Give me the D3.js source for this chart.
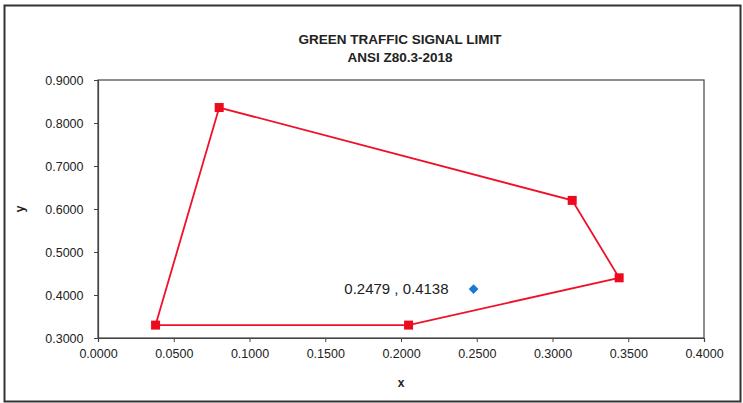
<!DOCTYPE html>
<html>
<head>
<meta charset="utf-8">
<script src="https://cdn.jsdelivr.net/npm/d3@7"></script>
<style>
  body { margin: 0; background: #fff; }
  text { font-family: "Liberation Sans", Arial, sans-serif; }
</style>
</head>
<body>
<svg id="chart" width="743" height="403"></svg>
<script>
// boundary of the green region (closed polygon)
var limitX = [0.0380, 0.0800, 0.3130, 0.3440, 0.2050, 0.0380];
var limitY = [0.3300, 0.8360, 0.6200, 0.4400, 0.3300, 0.3300];

// measured point
var pointX = [0.2479];
var pointY = [0.4138];
var pointLabel = ["0.2479 , 0.4138"];

var xTicks = [0, 0.05, 0.1, 0.15, 0.2, 0.25, 0.3, 0.35, 0.4];
var yTicks = [0.3, 0.4, 0.5, 0.6, 0.7, 0.8, 0.9];

var svg = d3.select("#chart");

// outer frame
svg.append("rect")
  .attr("x", 4.5).attr("y", 5.5)
  .attr("width", 736).attr("height", 396)
  .attr("fill", "none")
  .attr("stroke", "#333")
  .attr("stroke-width", 2);

var plotLeft = 98, plotRight = 704, plotTop = 80, plotBottom = 338;

var x = d3.scaleLinear().domain([0, 0.4]).range([plotLeft, plotRight]);
var y = d3.scaleLinear().domain([0.3, 0.9]).range([plotBottom, plotTop]);

// plot area box
svg.append("rect")
  .attr("x", plotLeft).attr("y", plotTop)
  .attr("width", plotRight - plotLeft).attr("height", plotBottom - plotTop)
  .attr("fill", "none")
  .attr("stroke", "#444")
  .attr("stroke-width", 1.2);

var xAxis = svg.append("g")
  .attr("transform", "translate(0," + plotBottom + ")")
  .call(d3.axisBottom(x).tickValues(xTicks).tickSize(4).tickFormat(d3.format(".4f")));

var yAxis = svg.append("g")
  .attr("transform", "translate(" + plotLeft + ",0)")
  .call(d3.axisLeft(y).tickValues(yTicks).tickSize(4).tickFormat(d3.format(".4f")));

[xAxis, yAxis].forEach(function(g) {
  g.select(".domain").attr("stroke", "#444").attr("stroke-width", 1.2);
  g.selectAll(".tick line").attr("stroke", "#444");
  g.selectAll(".tick text")
    .attr("font-size", 12.5)
    .attr("fill", "#222")
    .style("font-family", "'Liberation Sans', Arial, sans-serif");
});
xAxis.selectAll(".tick text").attr("dy", "1.05em");
yAxis.selectAll(".tick text").attr("dx", "-0.6em");

// titles
svg.append("text")
  .attr("x", 400).attr("y", 44)
  .attr("text-anchor", "middle")
  .attr("font-size", 13.5).attr("font-weight", "bold").attr("fill", "#222")
  .text("GREEN TRAFFIC SIGNAL LIMIT");
svg.append("text")
  .attr("x", 400).attr("y", 62)
  .attr("text-anchor", "middle")
  .attr("font-size", 13.5).attr("font-weight", "bold").attr("fill", "#222")
  .text("ANSI Z80.3-2018");

svg.append("text")
  .attr("x", x(0.2)).attr("y", 387)
  .attr("text-anchor", "middle")
  .attr("font-size", 12).attr("font-weight", "bold").attr("fill", "#222")
  .text("x");
svg.append("text")
  .attr("transform", "translate(24," + y(0.6) + ") rotate(-90)")
  .attr("text-anchor", "middle")
  .attr("font-size", 12).attr("font-weight", "bold").attr("fill", "#222")
  .text("y");

// limit polygon
var limitData = limitX.map(function(v, i) { return { x: v, y: limitY[i] }; });

svg.append("path")
  .datum(limitData)
  .attr("fill", "none")
  .attr("stroke", "#f0102a")
  .attr("stroke-width", 1.8)
  .attr("d", d3.line().x(function(d) { return x(d.x); }).y(function(d) { return y(d.y); }));

svg.selectAll("rect.marker")
  .data(limitData.slice(0, limitData.length - 1))
  .enter()
  .append("rect")
    .attr("class", "marker")
    .attr("x", function(d) { return x(d.x) - 4.5; })
    .attr("y", function(d) { return y(d.y) - 4.5; })
    .attr("width", 9).attr("height", 9)
    .attr("fill", "#ee0a1e");

// measured point + label
var pointData = pointX.map(function(v, i) { return { x: v, y: pointY[i], label: pointLabel[i] }; });

svg.selectAll("path.pt")
  .data(pointData)
  .enter()
  .append("path")
    .attr("class", "pt")
    .attr("d", d3.symbol().type(d3.symbolDiamond2).size(60))
    .attr("transform", function(d) { return "translate(" + x(d.x) + "," + y(d.y) + ")"; })
    .attr("fill", "#1a78d8");

svg.selectAll("text.ptlabel")
  .data(pointData)
  .enter()
  .append("text")
    .attr("class", "ptlabel")
    .attr("x", function(d) { return x(d.x) - 25; })
    .attr("y", function(d) { return y(d.y) + 5; })
    .attr("text-anchor", "end")
    .attr("font-size", 15).attr("fill", "#222")
    .text(function(d) { return d.label; });
</script>
</body>
</html>
